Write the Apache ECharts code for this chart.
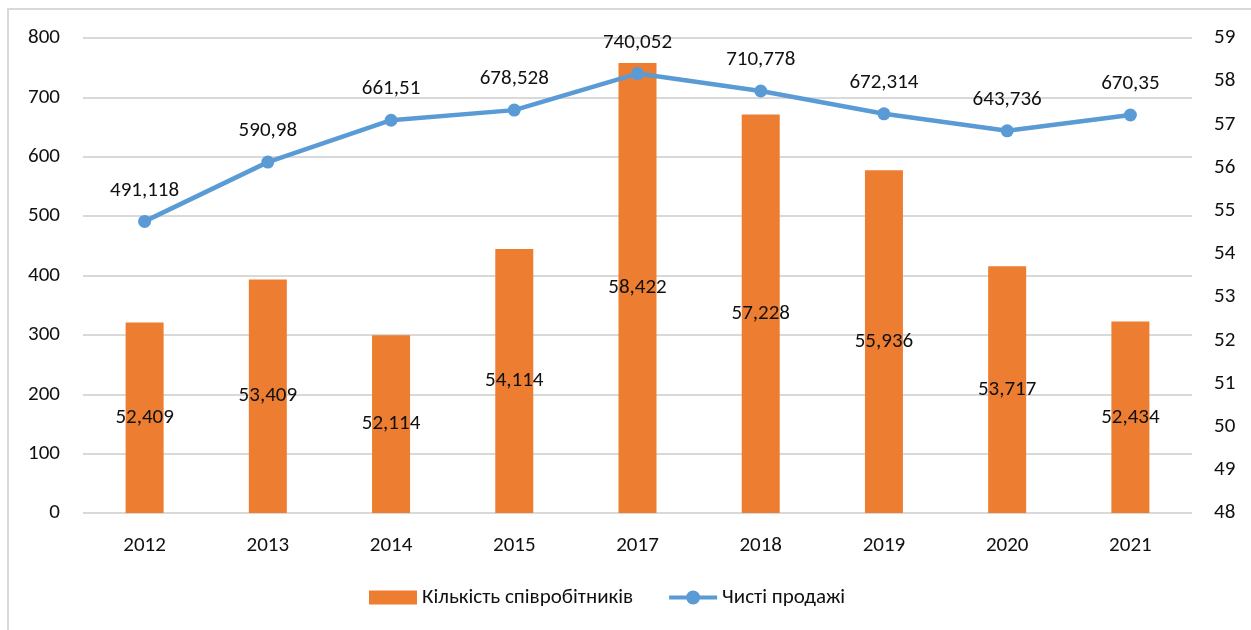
<!DOCTYPE html>
<html>
<head>
<meta charset="utf-8">
<script src="https://cdn.jsdelivr.net/npm/echarts@6/dist/echarts.min.js"></script>
<style>
  html, body { margin: 0; padding: 0; background: #fff; }
  #frame { position: absolute; left: 7px; top: 8px; width: 1250px; height: 630px; border: 2px solid #d9d9d9; box-sizing: border-box; }
  #chart { position: absolute; left: 0; top: 0; width: 1251px; height: 630px; }
</style>
</head>
<body>
<div id="frame"></div>
<div id="chart"></div>
<script>
(function () {
    var years = ['2012', '2013', '2014', '2015', '2017', '2018', '2019', '2020', '2021'];
    // Кількість співробітників (права вісь)
    var staff = [52.409, 53.409, 52.114, 54.114, 58.422, 57.228, 55.936, 53.717, 52.434];
    // Чисті продажі (ліва вісь)
    var sales = [491.118, 590.98, 661.51, 678.528, 740.052, 710.778, 672.314, 643.736, 670.35];

    var font = 'Calibri, Carlito, Lato, sans-serif';
    var txt = '#111';
    var fs = 21;
    // line + marker icon for the legend
    var lineIcon = 'path://M0,5L48,5L48,9L0,9Z M17,7A7,7 0 1,1 31,7A7,7 0 1,1 17,7Z';

    function comma(p) {
        return String(p.value).replace('.', ',');
    }

    var option = {
        animation: false,
        textStyle: { fontFamily: font },
        grid: { left: 83, right: 59, top: 38, bottom: 117 },
        legend: {
            bottom: 17,
            left: 364,
            itemWidth: 48,
            itemHeight: 14,
            itemGap: 36,
            textStyle: { fontSize: fs, color: txt, fontFamily: font },
            data: [
                { name: 'Кількість співробітників', icon: 'rect' },
                { name: 'Чисті продажі', icon: lineIcon }
            ]
        },
        xAxis: {
            type: 'category',
            data: years,
            axisLine: { show: false },
            axisTick: { show: false },
            axisLabel: { fontSize: fs, color: txt, margin: 22 }
        },
        yAxis: [{
            type: 'value',
            min: 0,
            max: 800,
            interval: 100,
            axisLine: { show: false },
            axisTick: { show: false },
            axisLabel: { fontSize: fs, color: txt, margin: 23 },
            splitLine: { lineStyle: { color: '#d9d9d9', width: 2 } }
        }, {
            type: 'value',
            min: 48,
            max: 59,
            interval: 1,
            axisLine: { show: false },
            axisTick: { show: false },
            axisLabel: { fontSize: fs, color: txt, margin: 22 },
            splitLine: { show: false }
        }],
        series: [{
            name: 'Кількість співробітників',
            type: 'bar',
            yAxisIndex: 1,
            data: staff,
            barWidth: 38,
            itemStyle: { color: '#ED7D31' },
            label: {
                show: true,
                position: 'inside',
                fontSize: fs,
                color: txt,
                formatter: comma
            }
        }, {
            name: 'Чисті продажі',
            type: 'line',
            yAxisIndex: 0,
            data: sales,
            symbol: 'circle',
            symbolSize: 13,
            itemStyle: { color: '#5B9BD5' },
            lineStyle: { color: '#5B9BD5', width: 4.5 },
            label: {
                show: true,
                position: 'top',
                distance: 14,
                fontSize: fs,
                color: txt,
                formatter: comma
            }
        }]
    };

    var chart = echarts.init(document.getElementById('chart'));
    chart.setOption(option);
})();
</script>
</body>
</html>
